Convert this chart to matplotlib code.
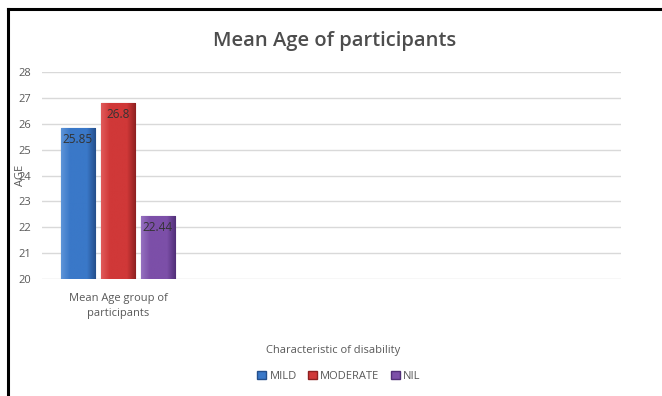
import numpy as np
import matplotlib
matplotlib.use("Agg")
import matplotlib.pyplot as plt
import matplotlib.patches as mpatches
from matplotlib.colors import LinearSegmentedColormap
from matplotlib.lines import Line2D

plt.rcParams["font.family"] = ["Open Sans", "DejaVu Sans"]

# data
category = "Mean Age group of\nparticipants"
groups = ["MILD", "MODERATE", "NIL"]
mean_age = [25.85, 26.8, 22.44]
colors = ["#3a78c8", "#d03838", "#7c4fa8"]
dark = ["#244f8c", "#8e2020", "#512f78"]
light = ["#5d94d8", "#e05a5a", "#9570bf"]

TEXT = "#595959"
GRID = "#d9d9d9"

fig = plt.figure(figsize=(6.62, 3.96), dpi=100)
ax = fig.add_axes([0.0634, 0.2955, 0.8746, 0.5225])

w = 0.224
step = 0.263
offsets = (np.arange(len(groups)) - 1) * step
bars = ax.bar(offsets, [v - 20 for v in mean_age], w, bottom=20,
              color=colors, edgecolor=dark, linewidth=0.8, zorder=3)

# soft horizontal shading on each bar
for bar, c, d, l in zip(bars, colors, dark, light):
    cmap = LinearSegmentedColormap.from_list("shade", [l, c, c, c, d])
    x0, y0 = bar.get_x(), bar.get_y()
    img = ax.imshow(np.linspace(0, 1, 64).reshape(1, -1), cmap=cmap,
                    extent=[x0, x0 + bar.get_width(), y0, y0 + bar.get_height()],
                    aspect="auto", zorder=3.5)
    img.set_clip_path(bar)

for bar, v in zip(bars, mean_age):
    ax.text(bar.get_x() + bar.get_width() / 2, v - 0.2, f"{v:g}",
            ha="center", va="top", fontsize=8.5, color="#333333", zorder=5)

ax.set_xlim(-0.5, 3.31)
ax.set_ylim(20, 28)
ax.set_yticks(range(20, 29))
ax.grid(axis="y", color=GRID, linewidth=1, zorder=0)
ax.set_axisbelow(True)
for s in ax.spines.values():
    s.set_visible(False)
ax.tick_params(axis="y", length=0, labelsize=8, labelcolor=TEXT, pad=8)
ax.set_xticks([0])
ax.set_xticklabels([category], fontsize=8, color=TEXT, linespacing=1.5)
ax.tick_params(axis="x", length=0, pad=10)

ax.set_ylabel("AGE", fontsize=8, color=TEXT, labelpad=-6)
ax.set_xlabel("Characteristic of disability", fontsize=8, color=TEXT)
ax.xaxis.set_label_coords(0.503, -0.32)

fig.text(0.506, 0.897, "Mean Age of participants", ha="center", va="center",
         fontsize=14.5, fontweight="semibold", color="#4d4d4d")

handles = [mpatches.Patch(facecolor=c, edgecolor=d, label=g)
           for g, c, d in zip(groups, colors, dark)]
fig.legend(handles=handles, loc="center", bbox_to_anchor=(0.512, 0.05),
           ncol=3, frameon=False, fontsize=8, handlelength=0.8,
           handleheight=0.8, handletextpad=0.3, columnspacing=1.0,
           labelcolor=TEXT)

# outer frame on the top and left edges
fig.add_artist(Line2D([0.012, 1.0], [0.977, 0.977], transform=fig.transFigure,
                      color="black", linewidth=2.2))
fig.add_artist(Line2D([0.012, 0.012], [0.0, 0.977], transform=fig.transFigure,
                      color="black", linewidth=2.2))

fig.savefig("out.png", dpi=100)
